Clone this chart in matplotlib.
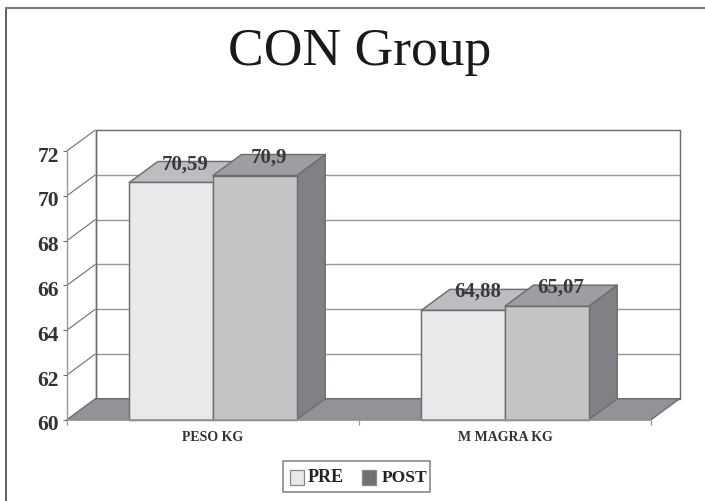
import matplotlib
matplotlib.use('Agg')
import matplotlib.pyplot as plt
from matplotlib.patches import Polygon, Rectangle

# values
categories = ['PESO KG', 'M MAGRA KG']
pre_values = [70.59, 64.88]
post_values = [70.9, 65.07]
pre_labels = ['70,59', '64,88']
post_labels = ['70,9', '65,07']
y_ticks = [60, 62, 64, 66, 68, 70, 72]

W, H = 705, 502
plt.rcParams['font.family'] = ['Liberation Serif', 'DejaVu Serif']

fig = plt.figure(figsize=(W / 100, H / 100), dpi=100)
fig.patch.set_facecolor('white')

# outer frame, only left and top show in the original
fig.add_artist(plt.Line2D([6.3 / W, 6.3 / W], [0, 1 - 9 / H], transform=fig.transFigure, color='#333333', lw=1.1))
fig.add_artist(plt.Line2D([6.3 / W, 1], [1 - 9 / H, 1 - 9 / H], transform=fig.transFigure, color='#7a7a7a', lw=1.5))

# axes box = front plane of the fake 3d chart
ax = fig.add_axes([67 / W, 1 - 420.7 / H, 584 / W, 268.8 / H])
ax.set_xlim(0, 2)
ax.set_ylim(60, 72)
ax.axis('off')

# depth of the 3d box in data units
dx = 28.5 / 292
dy = 21 / 22.4
line_c = '#6d6e70'
grid_c = '#97989b'


def poly(pts, fc, ec=line_c, lw=1.05, z=2):
    ax.add_patch(Polygon(pts, closed=True, fc=fc, ec=ec, lw=lw, zorder=z, clip_on=False, joinstyle='round'))


def line(xs, ys, c=line_c, lw=1.0, z=1):
    ax.plot(xs, ys, color=c, lw=lw, zorder=z, clip_on=False, solid_capstyle='butt')


# back wall and gridlines
poly([(dx, 60 + dy), (2 + dx, 60 + dy), (2 + dx, 72 + dy), (dx, 72 + dy)], 'white', z=0.5)
for t in y_ticks:
    if t > 60 and t < 72:
        line([dx, 2 + dx], [t + dy, t + dy], grid_c)
    if t > 60:
        line([0, dx], [t, t + dy], line_c, lw=0.8)

# floor
poly([(0, 60), (2, 60), (2 + dx, 60 + dy), (dx, 60 + dy)], '#929396', z=0.8)

# left axis and ticks
line([0, 0], [60, 72], grid_c, z=1)
line([dx, dx], [60 + dy, 72 + dy], line_c, z=1)
for t in y_ticks:
    line([-0.012, 0], [t, t], line_c, lw=0.8)
    ax.text(-0.027, t - 0.21, str(t), ha='right', va='center', fontsize=15.5, fontweight='bold', color='#333335')

# bottom axis ticks
for x in [0, 1, 2]:
    line([x, x], [60, 59.75], grid_c, lw=0.9)
line([0, 2], [60, 60], grid_c, lw=1.2, z=6)

bar_w = 83.7 / 292
for i in range(len(categories)):
    cx = i + 0.5
    # PRE bar
    x0, x1, v = cx - bar_w, cx, pre_values[i]
    poly([(x0, 60), (x1, 60), (x1, v), (x0, v)], '#e8e9eb', z=3)
    poly([(x0, v), (x1, v), (x1 + dx, v + dy), (x0 + dx, v + dy)], '#bcbdc0', z=2.5)
    ax.text((x0 + x1) / 2 + dx * 0.5, v + dy * 0.92, pre_labels[i], ha='center', va='center',
            fontsize=15, fontweight='bold', color='#3a3a3c', zorder=7)
    # POST bar
    x0, x1, v = cx, cx + bar_w, post_values[i]
    poly([(x1, 60), (x1 + dx, 60 + dy), (x1 + dx, v + dy), (x1, v)], '#808184', z=3)
    poly([(x0, 60), (x1, 60), (x1, v), (x0, v)], '#c3c4c6', z=4)
    poly([(x0, v), (x1, v), (x1 + dx, v + dy), (x0 + dx, v + dy)], '#9d9ea1', z=4)
    ax.text((x0 + x1) / 2 + dx * 0.5, v + dy * 0.92, post_labels[i], ha='center', va='center',
            fontsize=15, fontweight='bold', color='#3a3a3c', zorder=7)
    ax.text(cx, 59.23, categories[i], ha='center', va='center', fontsize=10,
            fontweight='bold', color='#333335')

# title
fig.text(359.5 / W, 1 - 65 / H, 'CON Group', ha='center', va='baseline', fontsize=38.5, color='#1a1a1a')

# legend box drawn by hand to sit like the original
fig.add_artist(Rectangle((283 / W, 1 - 493 / H), 147 / W, 31.5 / H, transform=fig.transFigure,
                         fc='white', ec='#808080', lw=1.1))
fig.add_artist(Rectangle((290 / W, 1 - 485.7 / H), 13.7 / W, 14.7 / H, transform=fig.transFigure,
                         fc='#e8e9eb', ec='#888888', lw=0.9))
fig.text(307.5 / W, 1 - 478 / H, 'PRE', ha='left', va='center', fontsize=13, fontweight='bold', color='#222222')
fig.add_artist(Rectangle((362 / W, 1 - 485.7 / H), 14 / W, 14.7 / H, transform=fig.transFigure,
                         fc='#6f7073', ec='#888888', lw=0.9))
fig.text(382 / W, 1 - 478 / H, 'POST', ha='left', va='center', fontsize=12.6, fontweight='bold', color='#222222')

fig.savefig('out.png', dpi=100)
